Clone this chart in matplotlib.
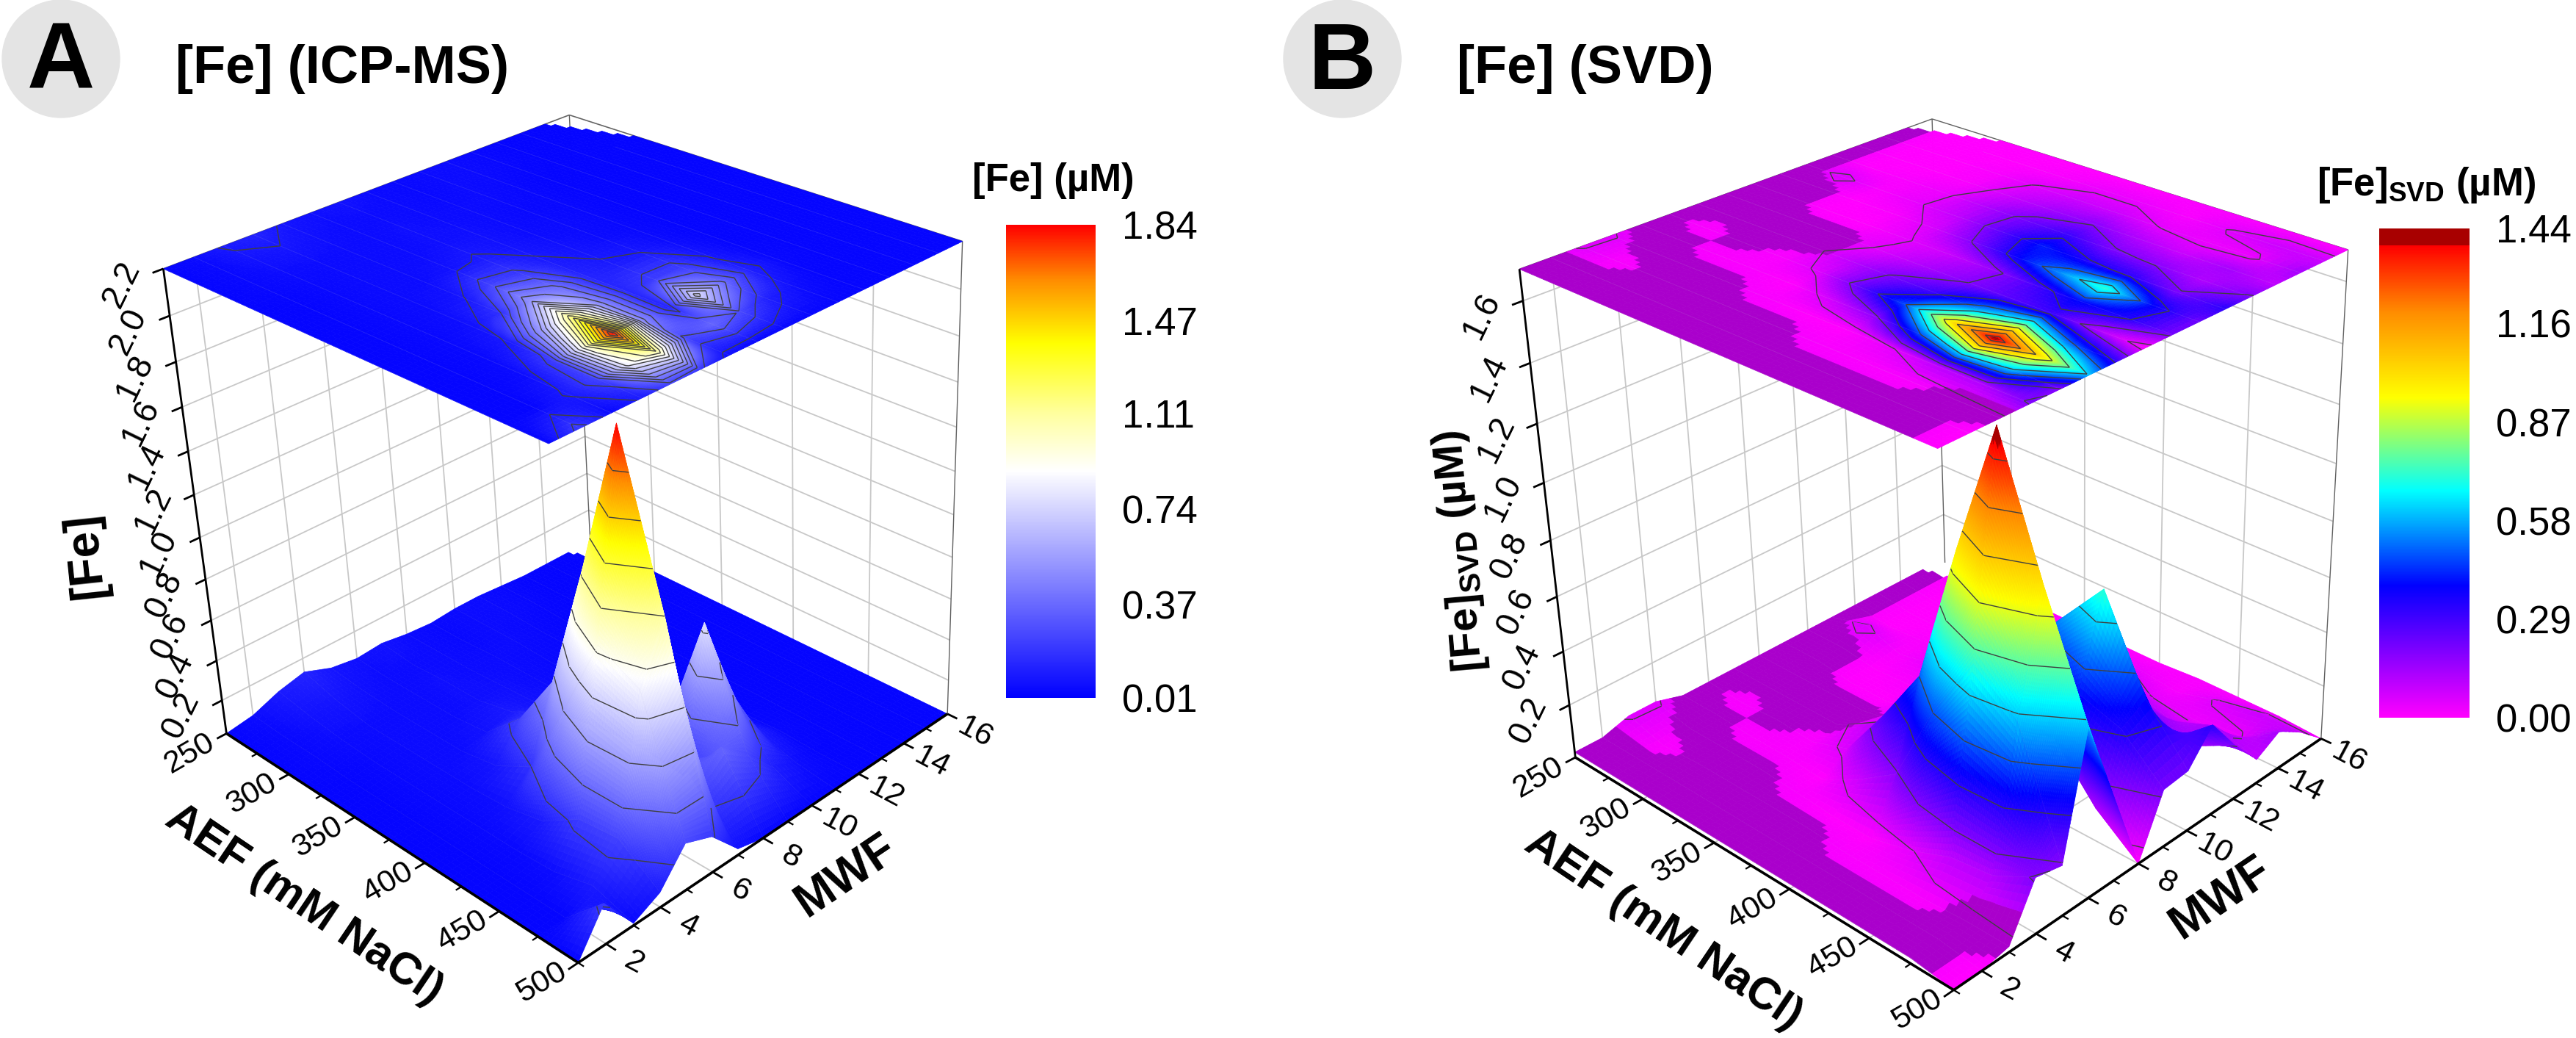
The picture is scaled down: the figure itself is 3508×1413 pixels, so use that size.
"""Two 3D surface panels of [Fe] against AEF and MWF, with contour map on the lid."""
import matplotlib
matplotlib.use("Agg")
import matplotlib.pyplot as plt
import numpy as np
from matplotlib.cm import ScalarMappable
from matplotlib.colors import LinearSegmentedColormap, Normalize
from matplotlib.patches import Circle
from matplotlib.transforms import IdentityTransform
from mpl_toolkits.mplot3d import art3d

FIG_W, FIG_H = 3508, 1413

AEF = [250, 275, 300, 325, 350, 375, 400, 425, 450, 475, 500]
MWF = [1, 2, 3, 4, 5, 6, 7, 8, 9, 10, 11, 12, 13, 14, 15, 16]

# rows follow AEF, columns follow MWF
FE_ICP = [
    [.03, .05, .10, .13, .08, .06, .07, .05, .04, .05, .05, .04, .03, .03, .03, .03],
    [.03, .04, .07, .08, .06, .05, .05, .05, .04, .05, .05, .04, .03, .03, .03, .03],
    [.03, .04, .05, .05, .05, .05, .06, .05, .05, .05, .04, .03, .03, .03, .03, .03],
    [.03, .03, .04, .05, .05, .05, .06, .06, .05, .04, .04, .03, .03, .03, .03, .03],
    [.03, .03, .04, .05, .05, .07, .10, .07, .05, .05, .04, .03, .03, .03, .03, .03],
    [.03, .03, .04, .05, .08, .24, .20, .10, .07, .05, .04, .03, .03, .03, .03, .03],
    [.03, .03, .04, .06, .18, .52, .40, .13, .10, .09, .05, .03, .03, .03, .03, .03],
    [.03, .03, .04, .10, .55, 1.15, .50, .14, .22, .22, .08, .03, .03, .03, .03, .03],
    [.03, .03, .05, .22, .95, 1.84, .50, .12, .78, .38, .12, .04, .03, .03, .03, .03],
    [.03, .03, .10, .24, .85, 1.10, .25, .36, .26, .12, .06, .03, .03, .03, .03, .03],
    [.03, .22, .04, .10, .25, .20, .06, .03, .03, .03, .03, .03, .03, .03, .03, .03],
]
# 0.02 is the flat purple floor of the original
FE_SVD = [
    [.02, .02, .05, .05, .02, .02, .02, .02, .02, .02, .02, .02, .02, .02, .02, .02],
    [.02, .02, .01, .02, .02, .01, .02, .02, .02, .02, .06, 0, 0, 0, 0, 0],
    [.02, .02, .02, .02, .01, .02, .02, .02, 0, 0, .01, .01, 0, 0, 0, 0],
    [.02, .02, .02, .02, .01, .01, .02, .02, 0, .01, .04, .03, .01, .01, 0, 0],
    [.02, .02, .02, .01, 0, .06, .10, .05, .04, .06, .10, .12, .08, .05, .01, 0],
    [.02, .02, .02, 0, .08, .26, .20, .12, .08, .20, .25, .22, .14, .08, .03, 0],
    [.02, .02, .01, 0, .18, .48, .30, .18, .15, .38, .42, .30, .18, .08, .03, 0],
    [.02, .02, .01, .04, .48, .98, .55, .25, .28, .55, .35, .20, .12, .04, .01, .01],
    [.02, .02, .01, .10, .72, 1.44, .80, .30, .40, .72, .32, .18, .08, .03, .05, .01],
    [.02, .02, .02, .12, .60, 1.00, .50, .12, .35, .40, .20, .12, .14, .03, .08, .01],
    [0, 0, .02, .20, .18, .60, .30, 0, .21, .22, .33, .20, .09, .14, .08, 0],
]

AEF_TICKS = [250, 300, 350, 400, 450, 500]
AEF_MINOR = [275, 325, 375, 425, 475]
MWF_TICKS = [2, 4, 6, 8, 10, 12, 14, 16]
MWF_MINOR = [1, 3, 5, 7, 9, 11, 13, 15]
Z_TICKS_ICP = [0.2, 0.4, 0.6, 0.8, 1.0, 1.2, 1.4, 1.6, 1.8, 2.0, 2.2]
Z_TICKS_SVD = [0.2, 0.4, 0.6, 0.8, 1.0, 1.2, 1.4, 1.6]
CBAR_TICKS_ICP = [0.01, 0.37, 0.74, 1.11, 1.47, 1.84]
CBAR_TICKS_SVD = [0.00, 0.29, 0.58, 0.87, 1.16, 1.44]

# where the box corners sit in the picture, pixels
# order: floor left, front, right, back, then lid left, front, right, back
BOX_ICP = [(308, 998), (789, 1311), (1290, 971), (803, 737),
           (223, 366), (745, 604), (1311, 329), (776, 156)]
BOX_SVD = [(2145, 1030), (2659, 1348), (3161, 1005), (2650, 767),
           (2069, 366), (2641, 612), (3197, 339), (2630, 162)]

CMAP_ICP = LinearSegmentedColormap.from_list("icp", [
    (0, "#0000ff"), (0.48, "#ffffff"), (0.60, "#ffffa0"), (0.75, "#ffff00"),
    (0.88, "#ff9000"), (1, "#ff0000")], N=512)
CMAP_SVD = LinearSegmentedColormap.from_list("svd", [
    (0, "#ff00ff"), (0.27, "#0000ff"), (0.464, "#00ffff"), (0.655, "#ffff00"),
    (0.83, "#ff8c00"), (0.965, "#ff0000"), (0.965, "#a80000"), (1, "#a80000")], N=512)

GRID = "#c8c8c8"


def fit_camera(corners, z_lim):
    """Fit the 3x4 matrix that takes data coordinates to pixels."""
    cube = [(0, 0, 0), (1, 0, 0), (1, 1, 0), (0, 1, 0),
            (0, 0, 1), (1, 0, 1), (1, 1, 1), (0, 1, 1)]
    rows = []
    for (a, m, t), (u, v) in zip(cube, corners):
        p = [a, m, t, 1]
        v = FIG_H - v
        rows.append(p + [0, 0, 0, 0] + [-u * c for c in p])
        rows.append([0, 0, 0, 0] + p + [-v * c for c in p])
    h = np.linalg.svd(np.array(rows, dtype=float))[2][-1].reshape(3, 4)
    if h[2, 3] < 0:
        h = -h
    scale = np.array([
        [1 / 250, 0, 0, -1],
        [0, 1 / 15, 0, -1 / 15],
        [0, 0, 1 / (z_lim[1] - z_lim[0]), -z_lim[0] / (z_lim[1] - z_lim[0])],
        [0, 0, 0, 1],
    ])
    depth = np.array([-1, 1, -0.9, 0.0]) @ scale
    return h @ scale, depth


def to_pixel(cam, x, y, z):
    u, v, w = cam @ np.array([x, y, z, 1.0])
    return u / w, v / w


def add_label(fig, cam, x, y, z, text, dx, dy, **kw):
    u, v = to_pixel(cam, x, y, z)
    fig.text((u + dx) / FIG_W, (v - dy) / FIG_H, text, ha="center", va="center", **kw)


def add_lines(ax, segs, color, lw, zorder):
    lc = art3d.Line3DCollection(segs, colors=color, linewidths=lw)
    lc.set_zorder(zorder)
    ax.add_collection3d(lc, autolim=False)
    lc.set_clip_on(False)


def cell_segments(corners, values, levels):
    """Straight contour pieces inside one grid cell; corners run round the cell."""
    segs = []
    for lev in levels:
        hits = []
        for i in range(4):
            j = (i + 1) % 4
            v0, v1 = values[i], values[j]
            if (v0 < lev) != (v1 < lev):
                f = (lev - v0) / (v1 - v0)
                hits.append(corners[i] + f * (corners[j] - corners[i]))
        for k in range(0, len(hits) - 1, 2):
            segs.append([hits[k], hits[k + 1]])
    return segs


def add_cell(table, r, c, x_val, y_val, plateau):
    """Split a cell into small quads, values bilinear between its four corners."""
    q = table[r:r + 2, c:c + 2]
    # steep cells get more quads, else the colour steps show up as stripes
    n = int(np.clip(np.ceil(np.ptp(q) / 0.025), 6, 40))
    s = np.linspace(0, 1, n + 1)
    rr, cc = np.meshgrid(s, s, indexing="ij")
    vals = (q[0, 0] * (1 - rr) * (1 - cc) + q[0, 1] * (1 - rr) * cc
            + q[1, 0] * rr * (1 - cc) + q[1, 1] * rr * cc)
    xs = x_val[r] + rr * (x_val[r + 1] - x_val[r])
    ys = y_val[c] + cc * (y_val[c + 1] - y_val[c])
    mid_v = (vals[:-1, :-1] + vals[1:, :-1] + vals[:-1, 1:] + vals[1:, 1:]) / 4
    mid_r = r + (rr[:-1, :-1] + rr[1:, 1:]) / 2
    mid_c = c + (cc[:-1, :-1] + cc[1:, 1:]) / 2
    flat = None
    if plateau is not None:
        f = (q == plateau).astype(float)
        flat = (f[0, 0] * (1 - rr) * (1 - cc) + f[0, 1] * (1 - rr) * cc
                + f[1, 0] * rr * (1 - cc) + f[1, 1] * rr * cc)
        flat = (flat[:-1, :-1] + flat[1:, 1:] + flat[1:, :-1] + flat[:-1, 1:]) / 4 > 0.5
    # the far corner of the data is missing in the original
    keep = ~((mid_c - 14) > mid_r / 2)
    return xs, ys, vals, mid_v, flat, keep


def quad_verts(xs, ys, zs):
    p = np.stack([xs, ys, zs], axis=-1)
    return np.stack([p[:-1, :-1], p[:-1, 1:], p[1:, 1:], p[1:, :-1]], axis=2).reshape(-1, 4, 3)


def cell_area(cam, pts):
    u = [to_pixel(cam, *p) for p in pts]
    return (u[2][0] - u[0][0]) * (u[3][1] - u[1][1]) - (u[3][0] - u[1][0]) * (u[2][1] - u[0][1])


def draw_panel(fig, box, z_lim, table, cmap, norm, surf_levels, lid_levels, z_ticks, plateau):
    cam, depth = fit_camera(box, z_lim)
    ax = fig.add_axes([0, 0, 1, 1], projection="3d", computed_zorder=False)
    ax.set_axis_off()
    ax.patch.set_visible(False)

    def get_proj():
        back = np.linalg.inv(ax.transData.get_affine().get_matrix())
        m = back @ cam
        return np.vstack([m[0], m[1], depth, m[2]])

    ax.get_proj = get_proj

    x_val, y_val = np.array(AEF, float), np.array(MWF, float)
    x0, x1, y0, y1 = 250, 500, 1, 16
    z0, z1 = z_lim

    # walls and floor
    grid = []
    for y in MWF_TICKS[:-1]:
        grid.append([(x0, y, z0), (x0, y, z1)])
        grid.append([(x0, y, z0), (x1, y, z0)])
    for x in AEF_TICKS[1:-1]:
        grid.append([(x, y1, z0), (x, y1, z1)])
        grid.append([(x, y0, z0), (x, y1, z0)])
    for z in z_ticks:
        grid.append([(x0, y0, z), (x0, y1, z)])
        grid.append([(x0, y1, z), (x1, y1, z)])
    add_lines(ax, grid, GRID, 1.3, 3)
    add_lines(ax, [[(x1, y1, z0), (x1, y1, z1)], [(x0, y1, z0), (x0, y1, z1)],
                   [(x0, y0, z1), (x0, y1, z1)], [(x0, y1, z1), (x1, y1, z1)]], "#606060", 1.0, 4)

    # surface, far cells first so that nearer cells paint over them
    order = 10
    sign = np.sign(cell_area(cam, [(x0, y0, z0), (x0, y1, z0), (x1, y1, z0), (x1, y0, z0)]))
    lid_verts, lid_cols, lid_lines, lid_mesh = [], [], [], []
    for r in range(len(AEF) - 1):
        for c in range(len(MWF) - 2, -1, -1):
            xs, ys, vals, mid_v, flat, keep = add_cell(table, r, c, x_val, y_val, plateau)
            cols = cmap(norm(mid_v))
            if flat is not None:
                cols[flat] = matplotlib.colors.to_rgba("#aa00cc")
            verts = quad_verts(xs, ys, vals)[keep.ravel()]
            cols_k = cols.reshape(-1, 4)[keep.ravel()]
            if len(verts) == 0:
                continue
            poly = art3d.Poly3DCollection(verts, facecolors=cols_k, edgecolors=cols_k, linewidths=0.5)
            poly.set_zorder(order)
            ax.add_collection3d(poly, autolim=False)
            poly.set_clip_on(False)
            order += 1

            lid_verts.append(quad_verts(xs, ys, np.full_like(vals, z1))[keep.ravel()])
            lid_cols.append(cols_k)

            q = table[[r, r, r + 1, r + 1], [c, c + 1, c + 1, c]]
            pts = np.array([[x_val[r], y_val[c]], [x_val[r], y_val[c + 1]],
                            [x_val[r + 1], y_val[c + 1]], [x_val[r + 1], y_val[c]]])
            whole = keep.all()
            surf_pts = np.column_stack([pts, q])
            lid_pts = np.column_stack([pts, np.full(4, z1)])
            if whole:
                lid_lines += cell_segments(lid_pts, q, lid_levels)
                lid_mesh.append([lid_pts[0], lid_pts[3]])

            if np.sign(cell_area(cam, surf_pts)) == sign and whole:
                segs = cell_segments(surf_pts, q, surf_levels)
                mesh = [[surf_pts[0], surf_pts[3]]]
                colors = [(.25, .25, .25, 1)] * len(segs) + [(.75, .75, .8, .3)] * len(mesh)
                add_lines(ax, segs + mesh, colors, [1.0] * len(segs) + [0.6] * len(mesh), order)
                order += 1

    cols = np.concatenate(lid_cols)
    lid = art3d.Poly3DCollection(np.concatenate(lid_verts), facecolors=cols, edgecolors=cols, linewidths=0.5)
    lid.set_zorder(order)
    ax.add_collection3d(lid, autolim=False)
    lid.set_clip_on(False)
    add_lines(ax, lid_mesh, [(.75, .75, .8, .14)], 0.6, order + 1)
    add_lines(ax, lid_lines, [(.25, .25, .25, 1)], 1.0, order + 2)

    # axes and ticks
    top = order + 5
    add_lines(ax, [[(x0, y0, z0), (x1, y0, z0)], [(x1, y0, z0), (x1, y1, z0)]], "black", 2.6, top)
    add_lines(ax, [[(x0, y0, z0), (x0, y0, z1)]], "black", 2.0, top)
    major, minor = [], []
    for x in AEF_TICKS:
        major.append([(x, y0, z0), (x, y0 - 0.35, z0)])
        add_label(fig, cam, x, y0, z0, str(x), -50, 27, fontsize=31, rotation=30)
    for x in AEF_MINOR:
        minor.append([(x, y0, z0), (x, y0 - 0.2, z0)])
    for y in MWF_TICKS:
        major.append([(x1, y, z0), (x1 + 6, y, z0)])
        add_label(fig, cam, x1, y, z0, str(y), 38, 26, fontsize=31, rotation=-28)
    for y in MWF_MINOR:
        minor.append([(x1, y, z0), (x1 + 3.5, y, z0)])
    for z in z_ticks:
        major.append([(x0, y0, z), (x0, y0 - 0.35, z)])
        add_label(fig, cam, x0, y0, z, f"{z:.1f}", -56, 21, fontsize=33, rotation=64)
    add_lines(ax, major, "black", 2.0, top)
    add_lines(ax, minor, "black", 1.6, top)
    return ax


def add_colorbar(fig, left, top, right, bottom, cmap, norm, ticks, title, title_xy):
    cax = fig.add_axes([left / FIG_W, 1 - bottom / FIG_H, (right - left) / FIG_W, (bottom - top) / FIG_H])
    cb = fig.colorbar(ScalarMappable(norm=norm, cmap=cmap), cax=cax)
    cb.set_ticks(ticks, labels=[f"{t:.2f}" for t in ticks])
    cb.ax.tick_params(length=0, labelsize=38, pad=26)
    cb.outline.set_visible(False)
    fig.text(title_xy[0] / FIG_W, 1 - title_xy[1] / FIG_H, title, fontsize=38, fontweight="bold",
             ha="center", va="center")


def main():
    plt.rcParams["font.family"] = ["Liberation Sans", "DejaVu Sans"]
    plt.rcParams["mathtext.fontset"] = "custom"
    plt.rcParams["mathtext.bf"] = "Liberation Sans:bold"
    plt.rcParams["mathtext.rm"] = "Liberation Sans"

    fig = plt.figure(figsize=(FIG_W / 100, FIG_H / 100), dpi=100)

    norm_icp = Normalize(0.01, 1.84)
    norm_svd = Normalize(0.0, 1.44)
    levels_icp = np.arange(0.184, 1.84, 0.184)
    lid_icp = np.arange(0.09, 1.84, 0.092)
    levels_svd = 0.045 + 0.144 * np.arange(10)

    draw_panel(fig, BOX_ICP, (0.03, 2.2), np.array(FE_ICP), CMAP_ICP, norm_icp,
               levels_icp, lid_icp, Z_TICKS_ICP, None)
    draw_panel(fig, BOX_SVD, (0.0, 1.7), np.array(FE_SVD, float), CMAP_SVD, norm_svd,
               levels_svd, levels_svd, Z_TICKS_SVD, 0.02)

    add_colorbar(fig, 1370, 306, 1492, 950, CMAP_ICP, norm_icp, CBAR_TICKS_ICP, "[Fe] (µM)", (1434, 246))
    add_colorbar(fig, 3240, 311, 3363, 977, CMAP_SVD, norm_svd, CBAR_TICKS_SVD,
                 r"[Fe]$_{\mathbf{SVD}}$ (µM)", (3304, 252))

    for cx, letter, title, tx in [(83, "A", "[Fe] (ICP-MS)", 239), (1828, "B", "[Fe] (SVD)", 1984)]:
        fig.add_artist(Circle((cx, FIG_H - 80), 80, transform=IdentityTransform(), color="#e4e4e4", zorder=1))
        fig.text(cx / FIG_W, 1 - 88 / FIG_H, letter, fontsize=92, fontweight="bold", ha="center", va="center")
        fig.text(tx / FIG_W, 1 - 94 / FIG_H, title, fontsize=52, fontweight="bold", ha="left", va="center")

    bold = dict(fontweight="bold", ha="center", va="center")
    fig.text(116 / FIG_W, 1 - 756 / FIG_H, "[Fe]", fontsize=46, rotation=96, **bold)
    fig.text(414 / FIG_W, 1 - 1232 / FIG_H, "AEF (mM NaCl)", fontsize=44, rotation=-34, **bold)
    fig.text(1152 / FIG_W, 1 - 1192 / FIG_H, "MWF", fontsize=46, rotation=34, **bold)
    fig.text(1989 / FIG_W, 1 - 750 / FIG_H, r"[Fe]$_{\mathbf{SVD}}$ (µM)", fontsize=42, rotation=95, **bold)
    fig.text(2265 / FIG_W, 1 - 1266 / FIG_H, "AEF (mM NaCl)", fontsize=44, rotation=-34, **bold)
    fig.text(3024 / FIG_W, 1 - 1222 / FIG_H, "MWF", fontsize=46, rotation=34, **bold)

    fig.savefig("out.png", dpi=100)
    plt.close(fig)


if __name__ == "__main__":
    main()
